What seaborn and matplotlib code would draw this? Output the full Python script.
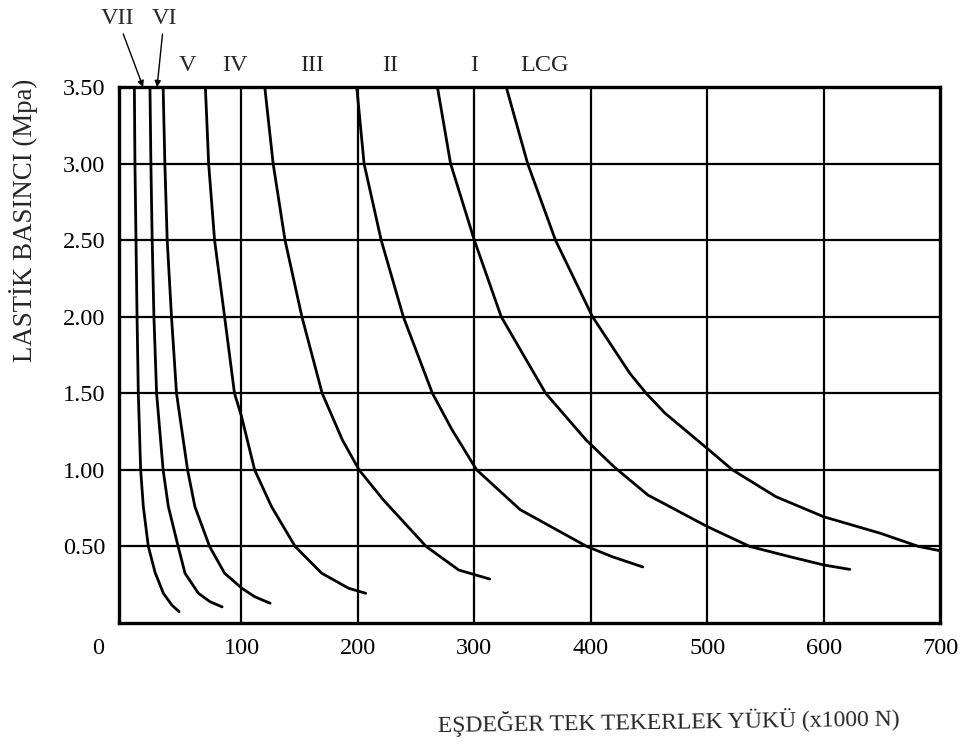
import matplotlib
matplotlib.use('Agg')
import matplotlib.pyplot as plt
import seaborn as sns
import pandas as pd
from matplotlib.transforms import ScaledTranslation

# curves: load (x1000 N) vs tyre pressure (MPa)
vii_load = [8, 8.5, 9.4, 10.3, 11.4, 13.4, 15.7, 20, 25.8, 32.9, 40.1, 46.4]
vii_press = [3.5, 3.0, 2.5, 2.0, 1.5, 1.0, 0.76, 0.5, 0.33, 0.194, 0.118, 0.074]

vi_load = [21.4, 22.2, 23.3, 24.8, 27.1, 32.7, 37.2, 45.6, 51.5, 63, 73, 83.4]
vi_press = [3.5, 3.0, 2.5, 2.0, 1.5, 1.0, 0.76, 0.5, 0.325, 0.194, 0.139, 0.105]

v_load = [32.7, 34.2, 36.2, 39.9, 44.2, 53.7, 60, 72.6, 85.5, 100.3, 111.3, 124.6]
v_press = [3.5, 3.0, 2.5, 2.0, 1.5, 1.0, 0.76, 0.5, 0.325, 0.227, 0.172, 0.129]

iv_load = [69, 71.8, 76.9, 85.5, 94, 100, 111.3, 125.8, 146.1, 168.9, 192, 206.7]
iv_press = [3.5, 3.0, 2.5, 2.0, 1.5, 1.35, 1.0, 0.76, 0.5, 0.325, 0.227, 0.194]

iii_load = [120, 127.2, 137.4, 151.9, 169.3, 186.7, 201, 222.3, 258.6, 286.6, 313.2]
iii_press = [3.5, 3.0, 2.5, 2.0, 1.5, 1.195, 1.0, 0.8, 0.5, 0.346, 0.287]

ii_load = [199, 205.3, 220, 239, 264, 281, 302, 339.4, 396.6, 418.4, 444.7]
ii_press = [3.5, 3.0, 2.5, 2.0, 1.5, 1.26, 1.0, 0.74, 0.5, 0.433, 0.366]

i_load = [268.3, 279.6, 300, 323.1, 361.3, 396, 420, 449, 500, 536.5, 571, 600, 622.5]
i_press = [3.5, 3.0, 2.5, 2.0, 1.5, 1.195, 1.02, 0.836, 0.63, 0.5, 0.433, 0.379, 0.35]

lcg_load = [327.4, 345.8, 369.7, 401.5, 433.6, 447.6, 463.8, 500, 521.7, 559, 600, 648.7, 681.5, 700]
lcg_press = [3.5, 3.0, 2.5, 2.0, 1.63, 1.5, 1.37, 1.14, 1.0, 0.825, 0.694, 0.586, 0.5, 0.472]

curve_names = ['VII', 'VI', 'V', 'IV', 'III', 'II', 'I', 'LCG']
x_ticks = [0, 100, 200, 300, 400, 500, 600, 700]
y_ticks = [0.5, 1.0, 1.5, 2.0, 2.5, 3.0, 3.5]
y_tick_labels = ['0.50', '1.00', '1.50', '2.00', '2.50', '3.00', '3.50']

loads = [vii_load, vi_load, v_load, iv_load, iii_load, ii_load, i_load, lcg_load]
presses = [vii_press, vi_press, v_press, iv_press, iii_press, ii_press, i_press, lcg_press]

frames = []
for name, xs, ys in zip(curve_names, loads, presses):
    frames.append(pd.DataFrame({'curve': name, 'load': xs, 'pressure': ys}))
df = pd.concat(frames, ignore_index=True)

sns.set_style('white')
plt.rcParams['font.family'] = ['Liberation Serif', 'DejaVu Serif']

fig = plt.figure(figsize=(9.69, 7.47), dpi=100)
ax = fig.add_axes([0.1228, 0.166, 0.8473, 0.7175])

sns.lineplot(data=df, x='load', y='pressure', units='curve', estimator=None,
             sort=False, color='black', linewidth=2.0, ax=ax)

ax.set_xlim(-5.2, 700)
ax.set_ylim(0, 3.5)
ax.set_xticks(x_ticks)
ax.set_xticklabels([str(t) for t in x_ticks])
ax.set_yticks(y_ticks)
ax.set_yticklabels(y_tick_labels)
ax.tick_params(length=0, labelsize=17.5, colors='black')
ax.tick_params(axis='y', pad=10)
ax.tick_params(axis='x', pad=11)
ax.set_xlabel('')
ax.set_ylabel('')

ax.grid(True, color='black', linewidth=1.6)
ax.xaxis.get_gridlines()[0].set_visible(False)
ax.xaxis.get_gridlines()[-1].set_visible(False)
ax.yaxis.get_gridlines()[-1].set_visible(False)
for s in ax.spines.values():
    s.set_visible(True)
    s.set_color('black')
    s.set_linewidth(2.4)

# the "0" label sits left of the corner in the original
zero_lab = ax.get_xticklabels()[0]
zero_lab.set_transform(zero_lab.get_transform() + ScaledTranslation(-0.27, 0, fig.dpi_scale_trans))

# curve labels above the frame
label_pos = {'V': (53.6, 3.64), 'IV': (94.5, 3.64), 'III': (160.6, 3.64), 'II': (227.6, 3.64),
             'I': (299.7, 3.64), 'LCG': (359.9, 3.64)}
for name, (lx, ly) in label_pos.items():
    ax.text(lx, ly, name, ha='center', va='center', fontsize=17.5, clip_on=False)
arrow = dict(arrowstyle='-|>', color='black', lw=1.0, mutation_scale=9, shrinkA=1, shrinkB=0)
ax.annotate('VII', xy=(15.5, 3.5), xytext=(-6.4, 3.945), ha='center', va='center',
            fontsize=17.5, arrowprops=arrow, annotation_clip=False)
ax.annotate('VI', xy=(27.5, 3.5), xytext=(33.5, 3.945), ha='center', va='center',
            fontsize=17.5, arrowprops=arrow, annotation_clip=False)

fig.text(0.69, 0.035, 'EŞDEĞER TEK TEKERLEK YÜKÜ (x1000 N)', ha='center', va='center',
         fontsize=17, rotation=0.8)
fig.text(0.0243, 0.7055, 'LASTİK BASINCI (Mpa)', ha='center', va='center',
         fontsize=19.4, rotation=90)

fig.savefig('out.png', dpi=100)
